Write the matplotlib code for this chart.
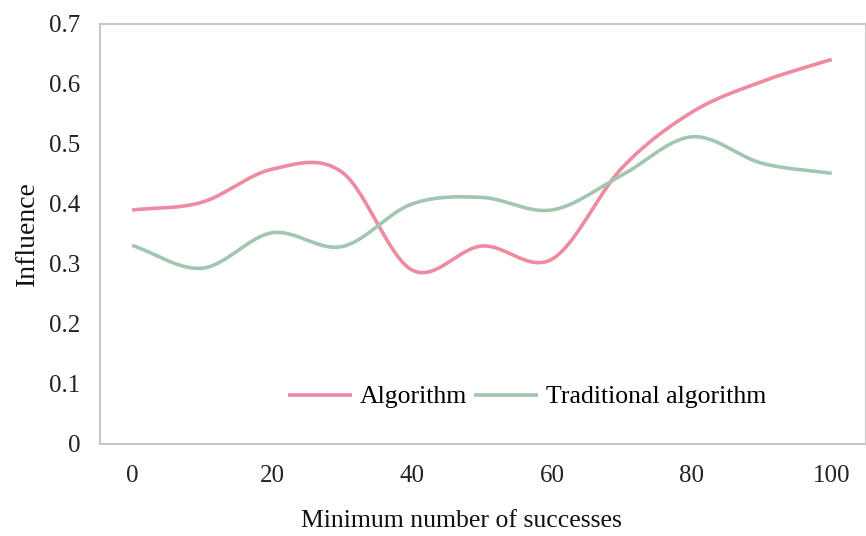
import numpy as np
import matplotlib
matplotlib.use("Agg")
import matplotlib.pyplot as plt

x_vals = [0, 10, 20, 30, 40, 50, 60, 70, 80, 90, 100]
algorithm = [0.39, 0.403, 0.458, 0.453, 0.29, 0.33, 0.308, 0.46, 0.553, 0.604, 0.641]
traditional = [0.331, 0.293, 0.352, 0.329, 0.40, 0.411, 0.39, 0.448, 0.512, 0.468, 0.451]
x_ticks = [0, 20, 40, 60, 80, 100]
y_ticks = [0, 0.1, 0.2, 0.3, 0.4, 0.5, 0.6, 0.7]
y_tick_labels = ["0", "0.1", "0.2", "0.3", "0.4", "0.5", "0.6", "0.7"]
series_names = ["Algorithm", "Traditional algorithm"]
colors = ["#EE8BA1", "#A3C6B1"]

def smooth(xs, ys, n=30):
    xs = np.asarray(xs, float); ys = np.asarray(ys, float)
    px = np.concatenate([[2*xs[0]-xs[1]], xs, [2*xs[-1]-xs[-2]]])
    py = np.concatenate([[2*ys[0]-ys[1]], ys, [2*ys[-1]-ys[-2]]])
    outx, outy = [], []
    for i in range(1, len(px)-2):
        p0, p1, p2, p3 = [np.array([px[j], py[j]]) for j in (i-1, i, i+1, i+2)]
        c1 = p1 + (p2 - p0) / 6.0
        c2 = p2 - (p3 - p1) / 6.0
        t = np.linspace(0, 1, n, endpoint=(i == len(px)-3))[:, None]
        b = ((1-t)**3)*p1 + 3*((1-t)**2)*t*c1 + 3*(1-t)*t**2*c2 + t**3*p2
        outx.extend(b[:, 0]); outy.extend(b[:, 1])
    return np.array(outx), np.array(outy)

plt.rcParams['font.family'] = ['Liberation Serif', 'DejaVu Serif']

fig = plt.figure(figsize=(8.66, 5.36), dpi=100)
ax = fig.add_axes([100/866, 92/536, 766/866, 420/536])

for ys, name, c in zip([algorithm, traditional], series_names, colors):
    sx, sy = smooth(x_vals, ys)
    ax.plot(sx, sy, color=c, lw=2.6, label=name, solid_capstyle='butt')

ax.set_xlim(-4.6, 104.9)
ax.set_ylim(0, 0.7)
ax.set_xticks(x_ticks)
ax.set_xticklabels([str(v) for v in x_ticks])
ax.set_yticks(y_ticks)
ax.set_yticklabels(y_tick_labels)
ax.tick_params(length=0, labelsize=18, colors="#222222")
ax.tick_params(axis='x', pad=15)
ax.tick_params(axis='y', pad=14)
for s in ax.spines.values():
    s.set_color("#C8C8C8"); s.set_linewidth(1.5)

ax.set_xlabel("Minimum number of successes", fontsize=18.5, color="#111111")
ax.xaxis.label.set_verticalalignment('center')
ax.xaxis.set_label_coords((461-100)/766, -(521-444)/420)
ax.set_ylabel("Influence", fontsize=20, labelpad=7, color="#111111")

leg = ax.legend(loc='center left', bbox_to_anchor=(188/766, 47/420), ncol=2, frameon=False,
                fontsize=18.5, handlelength=2.5, handletextpad=0.3, columnspacing=0.25,
                borderaxespad=0, borderpad=0)

fig.savefig("out.png", dpi=100)
